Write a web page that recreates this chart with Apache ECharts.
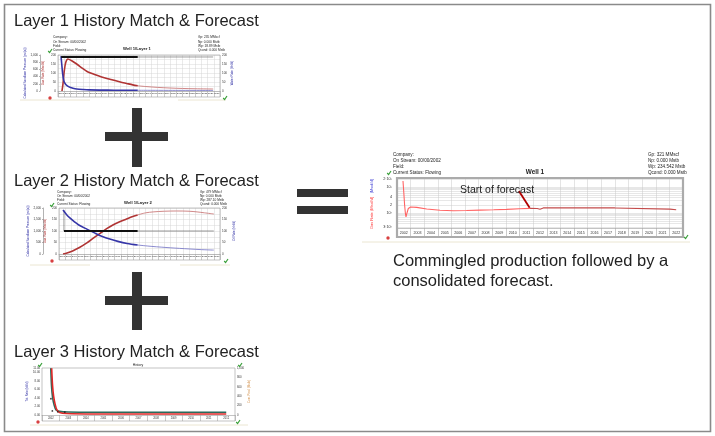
<!DOCTYPE html>
<html><head><meta charset="utf-8">
<script src="https://cdn.jsdelivr.net/npm/echarts@6/dist/echarts.min.js"></script>
<style>html,body{margin:0;padding:0;background:#fff}#main{width:715px;height:436px}</style>
</head><body><div id="main"></div>
<script>
// ================= DATA =================
// Layer 1 (x: years since start, y: left axis units)
const layer1Years = ['2002','2003','2004','2005','2006','2007','2008','2009','2010','2011','2012','2013','2014','2015','2016','2017','2018','2019','2020','2021','2022','2023','2024','2025','2026','2027'];
const layer1GasHist = [[0.64,0],[0.8,40],[1.0,110],[1.25,160],[1.6,178],[2.2,168],[3,150],[4,124],[4.6,110],[6,90],[7,78],[8,68],[8.8,61],[10,50],[11,42],[12,34],[12.8,29]];
const layer1GasFc = [[12.8,29],[14,25],[16,20],[18,16.5],[20,14],[22,12.5],[24.9,11]];
const layer1WaterHist = [[0.48,194],[0.6,150],[0.75,95],[0.9,62],[1.1,44],[1.5,28],[2,19],[2.4,15],[3,11],[4,8],[5,6],[7,5],[9,4.5],[12.8,4]];
const layer1WaterFc = [[12.8,4],[18,3.5],[24.9,3]];
const layer1PressHist = [[0.5,189],[12.8,189]];
const layer1PressFc = [[12.8,189],[24.9,189]];

// Layer 2
const layer2Years = layer1Years;
const layer2WaterHist = [[0.65,191],[1.2,172],[1.8,156],[2.5,140],[3.2,126],[4.5,108],[6,88],[7,76],[8.2,65],[9.5,55],[11,46],[12.7,39]];
const layer2WaterFc = [[12.7,39],[15,33],[18,27],[21,22],[23,19],[25,17]];
const layer2GasHist = [[0.65,0],[1.3,4],[2.2,13],[3.3,28],[4.5,48],[5.6,70],[6.7,91],[7.7,110],[8.7,126],[9.8,140],[10.9,152],[11.8,162],[12.7,170]];
const layer2GasFc = [[12.7,170],[14,179],[15.2,183],[17,186],[19,187],[21,186],[22.3,183],[23.5,179],[25,174]];
const layer2PressHist = [[0.8,100],[12.7,100]];
const layer2PressFc = [[12.7,100],[25,100]];
const layer2PressStep = [[0.8,191],[0.8,100]];

// Layer 3
const layer3Years = ['2002','2003','2004','2005','2006','2007','2008','2009','2010','2011','2012'];
const layer3Oil = [[0.55,11],[0.6,7],[0.66,4.5],[0.75,2.5],[0.85,1.2],[1.0,0.6],[1.4,0.35],[3,0.25],[10.5,0.25]];
const layer3Total = [[0.5,11],[0.54,7],[0.6,4.2],[0.7,2.2],[0.8,1.2],[1.0,0.85],[1.5,0.7],[3,0.65],[10.5,0.65]];
const layer3Obs = [[0.51,3.8],[0.59,0.95],[0.9,0.75],[1.3,0.68]];

// Well 1 (commingled)
const well1Years = ['2002','2003','2004','2005','2006','2007','2008','2009','2010','2011','2012','2013','2014','2015','2016','2017','2018','2019','2020','2021','2022'];
const well1GasHist = [[2002.44,1700],[2002.5,600],[2002.56,200],[2002.62,95],[2002.66,72],[2002.72,95],[2002.83,150],[2003.0,172],[2003.1,176],[2003.45,166],[2004.18,143],[2005.16,128],[2006.14,123],[2007.1,126],[2008.1,130],[2009.1,134],[2010.05,139],[2011.0,146],[2011.77,152]];
const well1GasFc = [[2011.77,152],[2012.3,150],[2012.5,140],[2012.74,158],[2018.0,158],[2018.08,143],[2022.04,142],[2022.5,135]];
const well1YTicks = [30,100,200,400,1000,2000];
const well1YTickText = {30:'3·10¹',100:'10²',200:'2',400:'4',1000:'10³',2000:'2·10³'};
const well1YGrid = [30,40,50,60,70,80,90,100,200,300,400,500,600,700,800,900,1000,2000];

// ================= BUILD =================
const FONT = '"Liberation Sans", Arial, sans-serif';
const grid=[], xAxis=[], yAxis=[], series=[], graphic=[];
const RED1='#b03434', BLUE1='#3636a8', RED1L='#c46a6a', BLUE1L='#6f6fc4';

function addPanel(p){
  const gi = grid.length;
  grid.push({left:p.left, top:p.top, width:p.width, height:p.height, show:true,
    backgroundColor:'#fff', borderColor:'#a0a0a0', borderWidth:0});
  xAxis.push({type:'category', gridIndex:gi, data:p.cats, boundaryGap:true, position:'bottom',
    axisLine:{show:true, lineStyle:{color:'#9a9a9a', width:0.6}},
    axisTick:{show:true, interval:0, length:p.band, lineStyle:{color:'#a8a8a8', width:0.6}},
    axisLabel:{show:true, interval:0, fontSize:p.catFont, color:'#333', margin:(p.band-p.catFont)/2, fontFamily:FONT},
    splitLine:{show:true, interval:0, lineStyle:{color:p.vGrid||'#d4d4d4', width:0.5}}});
  const xv = xAxis.length;
  xAxis.push({type:'value', gridIndex:gi, min:p.xMin, max:p.xMax, show:false});
  const yBase = yAxis.length;
  p.yAxes.forEach(a => yAxis.push(Object.assign({gridIndex:gi}, a)));
  p.series.forEach(s => {
    const o = {type: s.type||'line', xAxisIndex:xv, yAxisIndex:yBase+(s.y||0), data:s.data,
      showSymbol:false, symbol:'none', animation:false, silent:true, z:s.z||2,
      smooth:s.smooth===undefined?0.3:s.smooth,
      lineStyle:{color:s.color, width:s.width||1}, itemStyle:{color:s.color}};
    if (s.type==='scatter'){ o.symbol='circle'; o.symbolSize=s.size||2; delete o.smooth; delete o.showSymbol; }
    if (s.extra) Object.assign(o, s.extra);
    series.push(o);
  });
  graphic.push({type:'rect', shape:{x:p.left, y:p.top, width:p.width, height:p.height+p.band},
    style:{fill:'none', stroke:p.frameColor||'#9a9a9a', lineWidth:p.frameWidth||0.6}, z:100, silent:true});
}

function yA(o){
  return Object.assign({type:'value', position:'left', offset:0,
    axisLine:{show:false}, axisTick:{show:false},
    axisLabel:{fontSize:3, color:'#333', margin:2, fontFamily:FONT},
    splitLine:{show:false},
    nameLocation:'middle', nameRotate:90, nameTextStyle:{fontSize:3, fontFamily:FONT}}, o);
}

// ---- Layer 1 panel ----
addPanel({left:58, top:55, width:162, height:36, band:6, catFont:2.4, cats:layer1Years, xMin:0, xMax:26,
  yAxes:[
    yA({min:0,max:200,interval:25, axisLabel:{fontSize:3,color:'#333',margin:2,formatter:v=>v%50===0?v:''},
        splitLine:{show:true,lineStyle:{color:'#d8d8d8',width:0.5}},
        name:'Gas Rate (Mscf/d)', nameGap:13, nameTextStyle:{fontSize:3,color:RED1}}),
    yA({min:0,max:1000,interval:200, offset:18, axisLine:{show:true,lineStyle:{color:'#666',width:0.5}},
        axisTick:{show:true,length:1,lineStyle:{color:'#666',width:0.5}},
        name:'Calculated Sandface Pressure (psi(a))', nameGap:11, nameTextStyle:{fontSize:3,color:BLUE1}}),
    yA({min:0,max:200,interval:50, position:'right',
        name:'Water Rate (bbl/d)', nameGap:9, nameTextStyle:{fontSize:3,color:BLUE1}})
  ],
  series:[
    {data:layer1PressFc, color:'#555', width:0.6, smooth:false},
    {data:layer1PressHist, color:'#111', width:2.2, smooth:false, z:4},
    {data:layer1GasFc, color:RED1L, width:0.8},
    {data:layer1GasHist, color:RED1, width:1.6, z:3},
    {data:layer1WaterFc, color:BLUE1L, width:0.8},
    {data:layer1WaterHist, color:BLUE1, width:1.6, z:3}
  ]});

// ---- Layer 2 panel ----
addPanel({left:59, top:208, width:161, height:46, band:6, catFont:2.4, cats:layer2Years, xMin:0, xMax:26,
  yAxes:[
    yA({min:0,max:200,interval:25, axisLabel:{fontSize:3,color:'#333',margin:2,formatter:v=>v%50===0?v:''},
        splitLine:{show:true,lineStyle:{color:'#d8d8d8',width:0.5}},
        name:'Gas Rate (Mscf/d)', nameGap:12, nameTextStyle:{fontSize:3,color:RED1}}),
    yA({min:0,max:2000,interval:500, offset:16, axisLine:{show:true,lineStyle:{color:'#666',width:0.5}},
        axisTick:{show:true,length:1,lineStyle:{color:'#666',width:0.5}},
        name:'Calculated Sandface Pressure (psi(a))', nameGap:11, nameTextStyle:{fontSize:3,color:BLUE1}}),
    yA({min:0,max:200,interval:50, position:'right',
        name:'Oil Rate (bbl/d)', nameGap:13, nameTextStyle:{fontSize:3,color:BLUE1}})
  ],
  series:[
    {data:layer2PressFc, color:'#555', width:0.6, smooth:false},
    {data:layer2PressStep, color:'#333', width:0.5, smooth:false},
    {data:layer2PressHist, color:'#111', width:2.2, smooth:false, z:4},
    {data:layer2GasFc, color:RED1L, width:0.8},
    {data:layer2GasHist, color:RED1, width:1.6, z:3},
    {data:layer2WaterFc, color:BLUE1L, width:0.8},
    {data:layer2WaterHist, color:BLUE1, width:1.6, z:3}
  ]});

// ---- Layer 3 panel ----
addPanel({left:42, top:368, width:193, height:47, band:6, catFont:2.6, cats:layer3Years, xMin:0, xMax:11,
  vGrid:'#ffffff',
  yAxes:[
    yA({min:0,max:11,interval:2, axisLabel:{fontSize:2.8,color:'#333',margin:2,formatter:v=>v.toFixed(2)},
        name:'Tot. Rate (bbl/d)', nameGap:10, nameTextStyle:{fontSize:2.8,color:BLUE1}}),
    yA({min:0,max:1000,interval:200, position:'right', axisLabel:{fontSize:2.8,color:'#333',margin:2},
        name:'Cum. Prod. (Mstb)', nameGap:12, nameTextStyle:{fontSize:2.8,color:'#d08a40'}})
  ],
  series:[
    {data:layer3Total, color:'#2b6b5c', width:1.6, smooth:0.2, z:3},
    {data:layer3Oil, color:'#e02828', width:1.6, smooth:0.2, z:4},
    {type:'scatter', data:layer3Obs, color:'#111', size:1.8, z:5}
  ]});

// ---- Well 1 panel ----
addPanel({left:397, top:178, width:286, height:50, band:9, catFont:3.6, cats:well1Years, xMin:2002, xMax:2023,
  vGrid:'#c8c8c8', frameColor:'#ababab', frameWidth:2.2,
  yAxes:[
    {type:'log', logBase:10, min:27, max:2200, position:'left',
     axisLine:{show:false}, axisTick:{show:false, customValues:well1YGrid},
     axisLabel:{fontSize:3.8, color:'#333', margin:5, fontFamily:FONT, customValues:well1YTicks,
       formatter:v=>well1YTickText[Math.round(v)]||''},
     splitLine:{show:true, lineStyle:{color:'#d6d6d6', width:0.6}}}
  ],
  series:[
    {data:well1GasHist, color:'#ff6464', width:1.1, smooth:false, z:3},
    {data:well1GasFc, color:'#c44c4c', width:1.1, smooth:false, z:3,
     extra:{markLine:{silent:true, animation:false, symbol:['none','arrow'], symbolSize:[0,6],
       lineStyle:{color:'#b00000', width:1.8, type:'solid'}, label:{show:false},
       data:[[{coord:[2010.95,700]},{coord:[2011.74,160]}]]}}}
  ]});

// ================= GRAPHIC (decor & text) =================
function T(x,y,text,size,o){
  o=o||{};
  return {type:'text', x:x, y:y, rotation:o.rot||0, z:o.z||110, silent:true,
    style:{text:text, font:(o.bold?'bold ':'')+size+'px '+FONT, fill:o.fill||'#222',
      textAlign:o.align||'left', align:o.align||'left',
      textVerticalAlign:o.va||'middle', verticalAlign:o.va||'middle'}};
}
function R(x,y,w,h,fill){ return {type:'rect', shape:{x,y,width:w,height:h}, style:{fill:fill}, z:105, silent:true}; }
function check(x,y){ return {type:'polyline', shape:{points:[[x-1.8,y],[x-0.4,y+1.6],[x+2,y-2]]}, style:{stroke:'#3aa03a', lineWidth:1.2, fill:'none'}, z:110, silent:true}; }
function redDot(x,y){ return {type:'circle', shape:{cx:x, cy:y, r:1.7}, style:{fill:'#d84040'}, z:110, silent:true}; }
function hline(x1,x2,y,c){ return {type:'line', shape:{x1,y1:y,x2,y2:y}, style:{stroke:c||'#ebe6d2', lineWidth:1}, z:90, silent:true}; }

// outer frame
graphic.push({type:'rect', shape:{x:4.5,y:4.5,width:706,height:427}, style:{fill:'none', stroke:'#8a8a8a', lineWidth:1.6}, z:1, silent:true});

// titles
graphic.push(T(14,21,'Layer 1 History Match & Forecast',16.5));
graphic.push(T(14,181,'Layer 2 History Match & Forecast',16.5));
graphic.push(T(14,352,'Layer 3 History Match & Forecast',16.5));
graphic.push(T(393,261,'Commingled production followed by a',16.5));
graphic.push(T(393,281,'consolidated forecast.',16.5));

// plus and equal signs
graphic.push(R(132,108,10,59,'#333'), R(105,132,63,9,'#333'));
graphic.push(R(132,272,10,58,'#333'), R(105,296,63,9,'#333'));
graphic.push(R(297,189,51,8,'#333'), R(297,206,51,8,'#333'));

// Layer 1 header
const hdrL = ['Company:','On Stream: 00/00/2002','Field:','Current Status: Flowing'];
hdrL.forEach((s,i)=>graphic.push(T(53,37.5+i*4.2,s,3.2)));
['Gp: 235 MMscf','Np: 0.000 Mstb','Wp: 18.89 Mstb','Qcond: 0.000 Mstb'].forEach((s,i)=>graphic.push(T(198,37.5+i*4.2,s,3.2)));
graphic.push(T(137,49,'Well 1/Layer 1',4.2,{bold:true,align:'center'}));
graphic.push(check(50,51), check(225,98), redDot(50,98));
graphic.push(hline(20,90,100), hline(178,226,100));

// Layer 2 header
hdrL.forEach((s,i)=>graphic.push(T(57,192+i*4.2,s,3.2)));
['Gp: 479 MMscf','Np: 0.000 Mstb','Wp: 287.10 Mstb','Qcond: 0.000 Mstb'].forEach((s,i)=>graphic.push(T(200,192+i*4.2,s,3.2)));
graphic.push(T(138,203,'Well 1/Layer 2',4.2,{bold:true,align:'center'}));
graphic.push(check(52,205), check(226,261), redDot(52,261));
graphic.push(hline(30,90,265), hline(180,230,265));

// Layer 3 header
graphic.push(T(138,365,'History',3.4,{align:'center'}));
graphic.push(check(40,365), check(240,365), check(238,422), redDot(38,422));
graphic.push(hline(30,248,425));

// Well 1 header
hdrL.forEach((s,i)=>graphic.push(T(393,155+i*6,s,4.6)));
['Gp: 321 MMscf','Np: 0.000 Mstb','Wp: 234.542 Mstb','Qcond: 0.000 Mstb'].forEach((s,i)=>graphic.push(T(648,155+i*6,s,4.6)));
graphic.push(T(535,172,'Well 1',6.4,{bold:true,align:'center'}));
graphic.push(check(389,173), check(686,237), redDot(388,238));
graphic.push(hline(362,690,242));
graphic.push({type:'text', x:372, y:204, rotation:Math.PI/2, z:110, silent:true,
  style:{text:'{r|Gas Rate (Mscf/d)} {b|(Mscf/d)}', align:'center', textAlign:'center', verticalAlign:'middle', textVerticalAlign:'middle',
    rich:{r:{fill:'#ff3030', font:'4px '+FONT}, b:{fill:'#3030d0', font:'4px '+FONT}}}});
graphic.push(T(460,190,'Start of forecast',10.5,{fill:'#222'}));

const chart = echarts.init(document.getElementById('main'), null, {renderer:'canvas'});
chart.setOption({animation:false, backgroundColor:'#fff', textStyle:{fontFamily:FONT},
  grid, xAxis, yAxis, series, graphic});
</script>
</body></html>
